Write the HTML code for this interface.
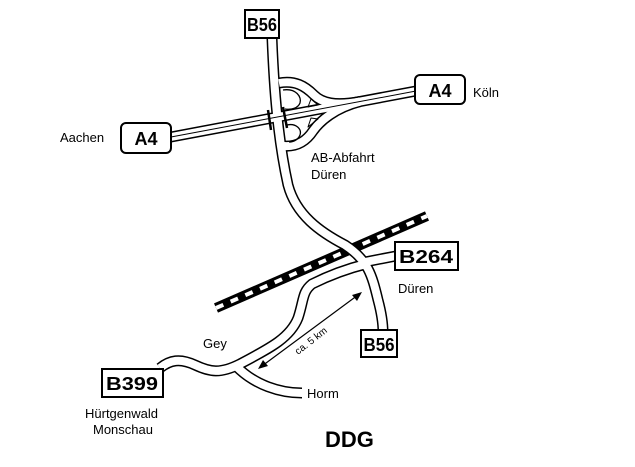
<!DOCTYPE html>
<html><head><style>
body{margin:0;background:#fff;}
svg{display:block;}
text{font-family:"Liberation Sans",sans-serif;}
</style></head><body>
<svg width="635" height="467" viewBox="0 0 635 467" xmlns="http://www.w3.org/2000/svg">
<line x1="216" y1="308" x2="427" y2="216" stroke="#000" stroke-width="10"/>
<line x1="216" y1="308" x2="427" y2="216" stroke="#fff" stroke-width="4" stroke-dasharray="8 8"/>
<g fill="none" stroke-linecap="butt" stroke-linejoin="round">
<g stroke="#000" stroke-width="11">
<path d="M272 38 C274 90 278 140 288 185 C296 215 320 232 345 245 C368 260 372 275 378 300 C382 315 383 325 383 332"/>
<path d="M365 262 L396 256"/>
<path d="M160 368 C170 360 180 358 195 365 C210 372 220 374 240 364 C270 348 290 338 298 318 C304 300 302 292 312 284 C330 275 350 268 366 264"/>
<path d="M237 367 C255 385 280 393 302 393"/>
<path d="M171 137 L416 91"/>
<path d="M279 83 C295 80 305 86 314 95 C322 103 335 106 360 101.6"/>
<path d="M284 146 C298 147 307 140 313 131 C320 121 335 108 360 101.6"/>
</g>
<g stroke="#fff" stroke-width="8">
<path d="M272 38 C274 90 278 140 288 185 C296 215 320 232 345 245 C368 260 372 275 378 300 C382 315 383 325 383 332"/>
<path d="M365 262 L396 256"/>
<path d="M160 368 C170 360 180 358 195 365 C210 372 220 374 240 364 C270 348 290 338 298 318 C304 300 302 292 312 284 C330 275 350 268 366 264"/>
<path d="M237 367 C255 385 280 393 302 393"/>
<path d="M171 137 L416 91"/>
<path d="M279 83 C295 80 305 86 314 95 C322 103 335 106 360 101.6"/>
<path d="M284 146 C298 147 307 140 313 131 C320 121 335 108 360 101.6"/>
</g>
<line x1="171" y1="137" x2="416" y2="91" stroke="#000" stroke-width="1"/>
<path d="M283 90 C296 88 302 97 300 103 C298 108 292 110 285 109" stroke="#000" stroke-width="1.3"/>
<path d="M287 125 C296 123 302 129 300 135 C298 140 293 142 289 142" stroke="#000" stroke-width="1.3"/>
<path d="M268 110 L271 130 M283 107 L287 128" stroke="#000" stroke-width="2.5"/>
<path d="M308 107 L318 105 L311 99 Z" stroke="#000" stroke-width="1"/>
<path d="M308 127 L318 119 L311 118 Z" stroke="#000" stroke-width="1"/>
<line x1="262" y1="366" x2="358" y2="295" stroke="#000" stroke-width="1.2"/>
</g>
<path d="M362 292 L352 295 L357 301 Z" fill="#000"/>
<path d="M258 369 L268 366 L263 360 Z" fill="#000"/>
<g fill="#fff" stroke="#000" stroke-width="2">
<rect x="245" y="10" width="34" height="28"/>
<rect x="121" y="123" width="50" height="30" rx="5"/>
<rect x="415" y="75" width="50" height="29" rx="5"/>
<rect x="395" y="242" width="63" height="28"/>
<rect x="361" y="330" width="36" height="27"/>
<rect x="102" y="369" width="61" height="28"/>
</g>
<g font-weight="bold" font-size="18" text-anchor="middle">
<text x="262" y="31" textLength="30" lengthAdjust="spacingAndGlyphs">B56</text>
<text x="146" y="145">A4</text>
<text x="440" y="97">A4</text>
<text x="426" y="263" textLength="54" lengthAdjust="spacingAndGlyphs">B264</text>
<text x="379" y="351" textLength="31" lengthAdjust="spacingAndGlyphs">B56</text>
<text x="132" y="390" textLength="52" lengthAdjust="spacingAndGlyphs">B399</text>
</g>
<g font-size="13">
<text x="60" y="142">Aachen</text>
<text x="473" y="97">Köln</text>
<text x="311" y="162">AB-Abfahrt</text>
<text x="311" y="179">Düren</text>
<text x="398" y="293">Düren</text>
<text x="203" y="348">Gey</text>
<text x="307" y="398">Horm</text>
<text x="85" y="418">Hürtgenwald</text>
<text x="93" y="434">Monschau</text>
<text x="0" y="0" font-size="10" transform="translate(298,355) rotate(-38)">ca. 5 km</text>
</g>
<text x="325" y="447" font-size="22" font-weight="bold">DDG</text>
</svg>
</body></html>
